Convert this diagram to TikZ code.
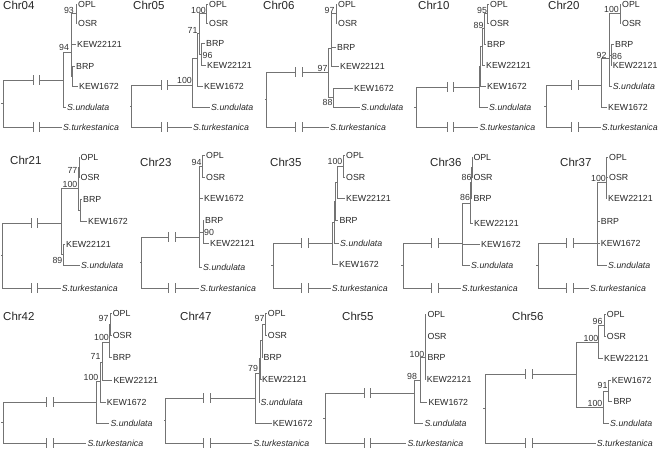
\documentclass[tikz,border=0pt]{standalone}
\usepackage{fontspec}
\setmainfont{Liberation Sans}
\newcommand\tipfont{\fontsize{8.8}{10}\selectfont}
\newcommand\chrfont{\fontsize{11.5}{13}\selectfont}
\begin{document}
\begin{tikzpicture}[x=1pt,y=-1pt,
  br/.style={draw=black!55,line width=0.8pt},
  tx/.style={anchor=west,inner sep=1pt,font=\tipfont,text=black!85,text height=6.2pt,text depth=0pt},
  sp/.style={tx,font=\tipfont\itshape},
  bs/.style={inner sep=0pt,font=\tipfont,text=black!80,text height=6.2pt,text depth=0pt},
  ttl/.style={anchor=west,inner sep=0pt,font=\chrfont,text=black!85,text height=8.3pt,text depth=0pt},
  brk/.style={inner sep=0pt,minimum width=6pt,minimum height=9pt}]
 \useasboundingbox (0,0) rectangle (660,451);

 % ---- Chr04 ----
 \begin{scope}[name prefix=c04-]
 \node[ttl] (t) at (3,5.2) {Chr04};
 \coordinate (r) at (3.3,103.5);
 \node[brk] (ka) at (36.3,80) {};
 \node[brk] (kb) at (36.3,127) {};
 \coordinate (n0) at (63,80);
 \coordinate (n1) at (71,52);
 \coordinate (n2) at (76,13);
 \coordinate (n3) at (72.5,76);
 \node[tx] (opl) at (77,4) {OPL};
 \node[tx] (osr) at (77,23) {OSR};
 \node[tx] (k22) at (76,44) {KEW22121};
 \node[tx] (brp) at (75,66) {BRP};
 \node[tx] (k16) at (78,86) {KEW1672};
 \node[sp] (und) at (66,107) {S.undulata};
 \node[sp] (tur) at (62,127) {S.turkestanica};
 \node[bs] (b1) at (64,47) {94};
 \node[bs] (b2) at (69,10) {93};
 \draw[br] (r) -- ++(-2,0) (r) |- (ka.west) (ka.north west) -- (ka.south west) (ka.north east) -- (ka.south east) (ka.east) -- (n0);
 \draw[br] (r) |- (kb.west) (kb.north west) -- (kb.south west) (kb.north east) -- (kb.south east) (kb.east) -- (tur.west);
 \draw[br] (n0) |- (n1) (n0) |- (und.west);
 \draw[br] (n1) |- (n2) (n1) |- (k22.west) (n1) |- (n3);
 \draw[br] (n2) |- (opl.west) (n2) |- (osr.west);
 \draw[br] (n3) |- (brp.west) (n3) |- (k16.west);
 \end{scope}

 % ---- Chr05 ----
 \begin{scope}[name prefix=c05-]
 \node[ttl] (t) at (133,5.2) {Chr05};
 \coordinate (r) at (131.7,106);
 \node[brk] (ka) at (164.2,85) {};
 \node[brk] (kb) at (164.2,127) {};
 \coordinate (n0) at (192.7,85);
 \coordinate (n1) at (197,58);
 \coordinate (n2) at (199,33);
 \coordinate (n3) at (206.7,13);
 \coordinate (n4) at (201,54);
 \node[tx] (opl) at (208,4) {OPL};
 \node[tx] (osr) at (208,23) {OSR};
 \node[tx] (brp) at (205,43) {BRP};
 \node[tx] (k22) at (206,65) {KEW22121};
 \node[tx] (k16) at (203,86) {KEW1672};
 \node[sp] (und) at (210,107) {S.undulata};
 \node[sp] (tur) at (192,127) {S.turkestanica};
 \node[bs] (b1) at (184.5,80) {100};
 \node[bs] (b2) at (192.5,30) {71};
 \node[bs] (b3) at (198.5,10) {100};
 \node[bs] (b4) at (207.5,55) {96};
 \draw[br] (r) -- ++(-2,0) (r) |- (ka.west) (ka.north west) -- (ka.south west) (ka.north east) -- (ka.south east) (ka.east) -- (n0);
 \draw[br] (r) |- (kb.west) (kb.north west) -- (kb.south west) (kb.north east) -- (kb.south east) (kb.east) -- (tur.west);
 \draw[br] (n0) |- (n1) (n0) |- (und.west);
 \draw[br] (n1) |- (n2) (n1) |- (k16.west);
 \draw[br] (n2) |- (n3) (n2) |- (n4);
 \draw[br] (n3) |- (opl.west) (n3) |- (osr.west);
 \draw[br] (n4) |- (brp.west) (n4) |- (k22.west);
 \end{scope}

 % ---- Chr06 ----
 \begin{scope}[name prefix=c06-]
 \node[ttl] (t) at (263,5.2) {Chr06};
 \coordinate (r) at (266.7,99.5);
 \node[brk] (ka) at (298.8,72) {};
 \node[brk] (kb) at (298.8,127) {};
 \coordinate (n0) at (328.3,72);
 \coordinate (n1) at (331.7,48);
 \coordinate (n2) at (336,13);
 \coordinate (n3) at (333.3,97);
 \node[tx] (opl) at (337,4) {OPL};
 \node[tx] (osr) at (337,23) {OSR};
 \node[tx] (brp) at (336,47) {BRP};
 \node[tx] (k22) at (339,66) {KEW22121};
 \node[tx] (k16) at (353,88) {KEW1672};
 \node[sp] (und) at (360,107) {S.undulata};
 \node[sp] (tur) at (329,127) {S.turkestanica};
 \node[bs] (b1) at (322.5,68) {97};
 \node[bs] (b2) at (329.5,10) {97};
 \node[bs] (b3) at (327.5,102) {88};
 \draw[br] (r) -- ++(-2,0) (r) |- (ka.west) (ka.north west) -- (ka.south west) (ka.north east) -- (ka.south east) (ka.east) -- (n0);
 \draw[br] (r) |- (kb.west) (kb.north west) -- (kb.south west) (kb.north east) -- (kb.south east) (kb.east) -- (tur.west);
 \draw[br] (n0) |- (n1) (n0) |- (n3);
 \draw[br] (n1) |- (n2) (n1) |- (brp.west) (n1) |- (k22.west);
 \draw[br] (n2) |- (opl.west) (n2) |- (osr.west);
 \draw[br] (n3) |- (k16.west) (n3) |- (und.west);
 \end{scope}

 % ---- Chr10 ----
 \begin{scope}[name prefix=c10-]
 \node[ttl] (t) at (418,5.2) {Chr10};
 \coordinate (r) at (416,107);
 \node[brk] (ka) at (450.3,87) {};
 \node[brk] (kb) at (450.3,127) {};
 \coordinate (n0) at (479.3,87);
 \coordinate (n1) at (480.7,66);
 \coordinate (n2) at (482,46.5);
 \coordinate (n3) at (484.5,28);
 \coordinate (n4) at (487.3,13.5);
 \node[tx] (opl) at (489,4) {OPL};
 \node[tx] (osr) at (489,23) {OSR};
 \node[tx] (brp) at (486,44) {BRP};
 \node[tx] (k22) at (485,65) {KEW22121};
 \node[tx] (k16) at (486,86) {KEW1672};
 \node[sp] (und) at (488,107) {S.undulata};
 \node[sp] (tur) at (478.3,127) {S.turkestanica};
 \node[bs] (b1) at (482,10.5) {95};
 \node[bs] (b2) at (478.5,25.5) {89};
 \draw[br] (r) -- ++(-2,0) (r) |- (ka.west) (ka.north west) -- (ka.south west) (ka.north east) -- (ka.south east) (ka.east) -- (n0);
 \draw[br] (r) |- (kb.west) (kb.north west) -- (kb.south west) (kb.north east) -- (kb.south east) (kb.east) -- (tur.west);
 \draw[br] (n0) |- (n1) (n0) |- (und.west);
 \draw[br] (n1) |- (n2) (n1) |- (k16.west);
 \draw[br] (n2) |- (n3) (n2) |- (k22.west);
 \draw[br] (n3) |- (n4) (n3) |- (brp.west);
 \draw[br] (n4) |- (opl.west) (n4) |- (osr.west);
 \end{scope}

 % ---- Chr20 ----
 \begin{scope}[name prefix=c20-]
 \node[ttl] (t) at (548,5.2) {Chr20};
 \coordinate (r) at (546,106);
 \node[brk] (ka) at (575,85) {};
 \node[brk] (kb) at (575,127) {};
 \coordinate (n0) at (601.7,85);
 \coordinate (n1) at (609.3,58);
 \coordinate (n2) at (620,13);
 \coordinate (n3) at (611,55);
 \node[tx] (opl) at (621,4) {OPL};
 \node[tx] (osr) at (621,23) {OSR};
 \node[tx] (brp) at (614,44) {BRP};
 \node[tx] (k22) at (611.7,65) {KEW22121};
 \node[sp] (und) at (611.7,86) {S.undulata};
 \node[tx] (k16) at (607,107) {KEW1672};
 \node[sp] (tur) at (600.7,127) {S.turkestanica};
 \node[bs] (b1) at (601.5,55) {92};
 \node[bs] (b2) at (611.5,9.5) {100};
 \node[bs] (b3) at (617,56) {86};
 \draw[br] (r) -- ++(-2,0) (r) |- (ka.west) (ka.north west) -- (ka.south west) (ka.north east) -- (ka.south east) (ka.east) -- (n0);
 \draw[br] (r) |- (kb.west) (kb.north west) -- (kb.south west) (kb.north east) -- (kb.south east) (kb.east) -- (tur.west);
 \draw[br] (n0) |- (n1) (n0) |- (k16.west);
 \draw[br] (n1) |- (n2) (n1) |- (n3) (n1) |- (und.west);
 \draw[br] (n2) |- (opl.west) (n2) |- (osr.west);
 \draw[br] (n3) |- (brp.west) (n3) |- (k22.west);
 \end{scope}

 % ---- Chr21 ----
 \begin{scope}[name prefix=c21-]
 \node[ttl] (t) at (10,160.5) {Chr21};
 \coordinate (r) at (2.7,255.5);
 \node[brk] (ka) at (34.2,223) {};
 \node[brk] (kb) at (34.2,288) {};
 \coordinate (n0) at (61.7,223);
 \coordinate (n1) at (78.3,188);
 \coordinate (n2) at (79,167);
 \coordinate (n3) at (80.5,210);
 \coordinate (n4) at (63.3,254);
 \node[tx] (opl) at (79.5,157) {OPL};
 \node[tx] (osr) at (79.5,177) {OSR};
 \node[tx] (brp) at (82,199) {BRP};
 \node[tx] (k16) at (87,221) {KEW1672};
 \node[tx] (k22) at (65,244) {KEW22121};
 \node[sp] (und) at (80,265) {S.undulata};
 \node[sp] (tur) at (60.7,288) {S.turkestanica};
 \node[bs] (b1) at (70,184.5) {100};
 \node[bs] (b2) at (72.5,170) {77};
 \node[bs] (b3) at (57.5,260) {89};
 \draw[br] (r) -- ++(-2,0) (r) |- (ka.west) (ka.north west) -- (ka.south west) (ka.north east) -- (ka.south east) (ka.east) -- (n0);
 \draw[br] (r) |- (kb.west) (kb.north west) -- (kb.south west) (kb.north east) -- (kb.south east) (kb.east) -- (tur.west);
 \draw[br] (n0) |- (n1) (n0) |- (n4);
 \draw[br] (n1) |- (n2) (n1) |- (n3);
 \draw[br] (n2) |- (opl.west) (n2) |- (osr.west);
 \draw[br] (n3) |- (brp.west) (n3) |- (k16.west);
 \draw[br] (n4) |- (k22.west) (n4) |- (und.west);
 \end{scope}

 % ---- Chr23 ----
 \begin{scope}[name prefix=c23-]
 \node[ttl] (t) at (140,162) {Chr23};
 \coordinate (r) at (141.7,262);
 \node[brk] (ka) at (171.8,237) {};
 \node[brk] (kb) at (171.8,288) {};
 \coordinate (n0) at (199.3,237);
 \coordinate (n1) at (202.7,166);
 \coordinate (n2) at (203.3,232);
 \node[tx] (opl) at (205,155) {OPL};
 \node[tx] (osr) at (205,177) {OSR};
 \node[tx] (k16) at (203,198) {KEW1672};
 \node[tx] (brp) at (204,220) {BRP};
 \node[tx] (k22) at (209,243) {KEW22121};
 \node[sp] (und) at (202,267) {S.undulata};
 \node[sp] (tur) at (199,288) {S.turkestanica};
 \node[bs] (b1) at (196.5,162) {94};
 \node[bs] (b2) at (209,232) {90};
 \draw[br] (r) -- ++(-2,0) (r) |- (ka.west) (ka.north west) -- (ka.south west) (ka.north east) -- (ka.south east) (ka.east) -- (n0);
 \draw[br] (r) |- (kb.west) (kb.north west) -- (kb.south west) (kb.north east) -- (kb.south east) (kb.east) -- (tur.west);
 \draw[br] (n0) |- (n1) (n0) |- (k16.west) (n0) |- (n2) (n0) |- (und.west);
 \draw[br] (n1) |- (opl.west) (n1) |- (osr.west);
 \draw[br] (n2) |- (brp.west) (n2) |- (k22.west);
 \end{scope}

 % ---- Chr35 ----
 \begin{scope}[name prefix=c35-]
 \node[ttl] (t) at (270,162) {Chr35};
 \coordinate (r) at (273.3,265.5);
 \node[brk] (ka) at (304.7,243) {};
 \node[brk] (kb) at (304.7,288) {};
 \coordinate (n0) at (332.7,243);
 \coordinate (n1) at (334,222);
 \coordinate (n2) at (335.5,201);
 \coordinate (n3) at (337.5,182);
 \coordinate (n4) at (343.3,166);
 \node[tx] (opl) at (345,155) {OPL};
 \node[tx] (osr) at (345,177) {OSR};
 \node[tx] (k22) at (345,198) {KEW22121};
 \node[tx] (brp) at (338.3,220) {BRP};
 \node[sp] (und) at (339,243) {S.undulata};
 \node[tx] (k16) at (338,264) {KEW1672};
 \node[sp] (tur) at (330.7,288) {S.turkestanica};
 \node[bs] (b1) at (335,161) {100};
 \draw[br] (r) -- ++(-2,0) (r) |- (ka.west) (ka.north west) -- (ka.south west) (ka.north east) -- (ka.south east) (ka.east) -- (n0);
 \draw[br] (r) |- (kb.west) (kb.north west) -- (kb.south west) (kb.north east) -- (kb.south east) (kb.east) -- (tur.west);
 \draw[br] (n0) |- (n1) (n0) |- (k16.west);
 \draw[br] (n1) |- (n2) (n1) |- (und.west);
 \draw[br] (n2) |- (n3) (n2) |- (brp.west);
 \draw[br] (n3) |- (n4) (n3) |- (k22.west);
 \draw[br] (n4) |- (opl.west) (n4) |- (osr.west);
 \end{scope}

 % ---- Chr36 ----
 \begin{scope}[name prefix=c36-]
 \node[ttl] (t) at (430,162) {Chr36};
 \coordinate (r) at (403.3,265.5);
 \node[brk] (ka) at (435,243) {};
 \node[brk] (kb) at (435,288) {};
 \coordinate (n0) at (462.7,243);
 \coordinate (n1) at (470,203);
 \coordinate (n2) at (471,182);
 \coordinate (n3) at (472,167);
 \node[tx] (opl) at (472.3,157) {OPL};
 \node[tx] (osr) at (472.3,177) {OSR};
 \node[tx] (brp) at (472.3,198) {BRP};
 \node[tx] (k22) at (473,223) {KEW22121};
 \node[tx] (k16) at (480,244) {KEW1672};
 \node[sp] (und) at (470,265) {S.undulata};
 \node[sp] (tur) at (460.7,288) {S.turkestanica};
 \node[bs] (b1) at (466.5,177) {86};
 \node[bs] (b2) at (465,197) {86};
 \draw[br] (r) -- ++(-2,0) (r) |- (ka.west) (ka.north west) -- (ka.south west) (ka.north east) -- (ka.south east) (ka.east) -- (n0);
 \draw[br] (r) |- (kb.west) (kb.north west) -- (kb.south west) (kb.north east) -- (kb.south east) (kb.east) -- (tur.west);
 \draw[br] (n0) |- (n1) (n0) |- (k16.west) (n0) |- (und.west);
 \draw[br] (n1) |- (n2) (n1) |- (k22.west);
 \draw[br] (n2) |- (n3) (n2) |- (brp.west);
 \draw[br] (n3) |- (opl.west) (n3) |- (osr.west);
 \end{scope}

 % ---- Chr37 ----
 \begin{scope}[name prefix=c37-]
 \node[ttl] (t) at (560,162) {Chr37};
 \coordinate (r) at (538.3,265.5);
 \node[brk] (ka) at (570,243) {};
 \node[brk] (kb) at (570,288) {};
 \coordinate (n0) at (597.3,243);
 \coordinate (n1) at (606,182);
 \node[tx] (opl) at (608,157) {OPL};
 \node[tx] (osr) at (608,177) {OSR};
 \node[tx] (k22) at (607,198) {KEW22121};
 \node[tx] (brp) at (599.7,221) {BRP};
 \node[tx] (k16) at (599.7,243) {KEW1672};
 \node[sp] (und) at (607,265) {S.undulata};
 \node[sp] (tur) at (589,288) {S.turkestanica};
 \node[bs] (b1) at (598.5,178) {100};
 \draw[br] (r) -- ++(-2,0) (r) |- (ka.west) (ka.north west) -- (ka.south west) (ka.north east) -- (ka.south east) (ka.east) -- (n0);
 \draw[br] (r) |- (kb.west) (kb.north west) -- (kb.south west) (kb.north east) -- (kb.south east) (kb.east) -- (tur.west);
 \draw[br] (n0) |- (n1) (n0) |- (brp.west) (n0) |- (k16.west) (n0) |- (und.west);
 \draw[br] (n1) |- (opl.west) (n1) |- (osr.west) (n1) |- (k22.west);
 \end{scope}

 % ---- Chr42 ----
 \begin{scope}[name prefix=c42-]
 \node[ttl] (t) at (3,316.5) {Chr42};
 \coordinate (r) at (3.3,422.5);
 \node[brk] (ka) at (49.7,402) {};
 \node[brk] (kb) at (49.7,443) {};
 \coordinate (n0) at (96,402);
 \coordinate (n1) at (100,381);
 \coordinate (n2) at (102.7,362);
 \coordinate (n3) at (109.3,342);
 \coordinate (n4) at (110,324);
 \node[tx] (opl) at (111.7,313) {OPL};
 \node[tx] (osr) at (111.7,335) {OSR};
 \node[tx] (brp) at (111.7,357) {BRP};
 \node[tx] (k22) at (112.3,380) {KEW22121};
 \node[tx] (k16) at (105.7,402) {KEW1672};
 \node[sp] (und) at (109.3,423) {S.undulata};
 \node[sp] (tur) at (86.3,443) {S.turkestanica};
 \node[bs] (b1) at (91,377) {100};
 \node[bs] (b2) at (95.5,356) {71};
 \node[bs] (b3) at (101.5,337) {100};
 \node[bs] (b4) at (103.5,318) {97};
 \draw[br] (r) -- ++(-2,0) (r) |- (ka.west) (ka.north west) -- (ka.south west) (ka.north east) -- (ka.south east) (ka.east) -- (n0);
 \draw[br] (r) |- (kb.west) (kb.north west) -- (kb.south west) (kb.north east) -- (kb.south east) (kb.east) -- (tur.west);
 \draw[br] (n0) |- (n1) (n0) |- (und.west);
 \draw[br] (n1) |- (n2) (n1) |- (k16.west);
 \draw[br] (n2) |- (n3) (n2) |- (k22.west);
 \draw[br] (n3) |- (n4) (n3) |- (brp.west);
 \draw[br] (n4) |- (opl.west) (n4) |- (osr.west);
 \end{scope}

 % ---- Chr47 ----
 \begin{scope}[name prefix=c47-]
 \node[ttl] (t) at (180,316.5) {Chr47};
 \coordinate (r) at (165.7,420.5);
 \node[brk] (ka) at (206.7,398) {};
 \node[brk] (kb) at (206.7,443) {};
 \coordinate (n0) at (255,398);
 \coordinate (n1) at (259,373);
 \coordinate (n2) at (260.5,358);
 \coordinate (n3) at (262,340);
 \coordinate (n4) at (265,324);
 \node[tx] (opl) at (266.7,313) {OPL};
 \node[tx] (osr) at (266.7,335) {OSR};
 \node[tx] (brp) at (262.5,357) {BRP};
 \node[tx] (k22) at (261,379) {KEW22121};
 \node[sp] (und) at (259.5,402) {S.undulata};
 \node[tx] (k16) at (271.7,423) {KEW1672};
 \node[sp] (tur) at (252.3,443) {S.turkestanica};
 \node[bs] (b1) at (253,368) {79};
 \node[bs] (b2) at (259.5,318) {97};
 \draw[br] (r) -- ++(-2,0) (r) |- (ka.west) (ka.north west) -- (ka.south west) (ka.north east) -- (ka.south east) (ka.east) -- (n0);
 \draw[br] (r) |- (kb.west) (kb.north west) -- (kb.south west) (kb.north east) -- (kb.south east) (kb.east) -- (tur.west);
 \draw[br] (n0) |- (n1) (n0) |- (k16.west);
 \draw[br] (n1) |- (n2) (n1) |- (und.west);
 \draw[br] (n2) |- (n3) (n2) |- (k22.west);
 \draw[br] (n3) |- (n4) (n3) |- (brp.west);
 \draw[br] (n4) |- (opl.west) (n4) |- (osr.west);
 \end{scope}

 % ---- Chr55 ----
 \begin{scope}[name prefix=c55-]
 \node[ttl] (t) at (342,316.5) {Chr55};
 \coordinate (r) at (325,418);
 \node[brk] (ka) at (367.2,393) {};
 \node[brk] (kb) at (367.2,443) {};
 \coordinate (n0) at (414,393);
 \coordinate (n1) at (420,380);
 \coordinate (n2) at (425,357);
 \node[tx] (opl) at (426.3,314) {OPL};
 \node[tx] (osr) at (426.3,336) {OSR};
 \node[tx] (brp) at (426.3,357) {BRP};
 \node[tx] (k22) at (425.7,379) {KEW22121};
 \node[tx] (k16) at (427.3,402) {KEW1672};
 \node[sp] (und) at (423.3,423) {S.undulata};
 \node[sp] (tur) at (406.3,443) {S.turkestanica};
 \node[bs] (b1) at (412,376) {98};
 \node[bs] (b2) at (417,354) {100};
 \draw[br] (r) -- ++(-2,0) (r) |- (ka.west) (ka.north west) -- (ka.south west) (ka.north east) -- (ka.south east) (ka.east) -- (n0);
 \draw[br] (r) |- (kb.west) (kb.north west) -- (kb.south west) (kb.north east) -- (kb.south east) (kb.east) -- (tur.west);
 \draw[br] (n0) |- (n1) (n0) |- (und.west);
 \draw[br] (n1) |- (n2) (n1) |- (k16.west);
 \draw[br] (n2) |- (opl.west) (n2) |- (osr.west) (n2) |- (brp.west) (n2) |- (k22.west);
 \end{scope}

 % ---- Chr56 ----
 \begin{scope}[name prefix=c56-]
 \node[ttl] (t) at (512,316.5) {Chr56};
 \coordinate (r) at (485,408.5);
 \node[brk] (ka) at (528.8,374) {};
 \node[brk] (kb) at (528.8,443) {};
 \coordinate (n0) at (576,374);
 \coordinate (n1) at (598.3,342.5);
 \coordinate (n2) at (604,325);
 \coordinate (n3) at (603.3,407.5);
 \coordinate (n4) at (608.3,391);
 \node[tx] (opl) at (605.7,314) {OPL};
 \node[tx] (osr) at (605.7,336) {OSR};
 \node[tx] (k22) at (603,358) {KEW22121};
 \node[tx] (k16) at (610.7,380) {KEW1672};
 \node[tx] (brp) at (612.3,401) {BRP};
 \node[sp] (und) at (609,423) {S.undulata};
 \node[sp] (tur) at (595.7,443) {S.turkestanica};
 \node[bs] (b1) at (591,338.5) {100};
 \node[bs] (b2) at (597.5,321) {96};
 \node[bs] (b3) at (595,403.5) {100};
 \node[bs] (b4) at (602.5,385) {91};
 \draw[br] (r) -- ++(-2,0) (r) |- (ka.west) (ka.north west) -- (ka.south west) (ka.north east) -- (ka.south east) (ka.east) -- (n0);
 \draw[br] (r) |- (kb.west) (kb.north west) -- (kb.south west) (kb.north east) -- (kb.south east) (kb.east) -- (tur.west);
 \draw[br] (n0) |- (n1) (n0) |- (n3);
 \draw[br] (n1) |- (n2) (n1) |- (k22.west);
 \draw[br] (n2) |- (opl.west) (n2) |- (osr.west);
 \draw[br] (n3) |- (n4) (n3) |- (und.west);
 \draw[br] (n4) |- (k16.west) (n4) |- (brp.west);
 \end{scope}
\end{tikzpicture}
\end{document}
